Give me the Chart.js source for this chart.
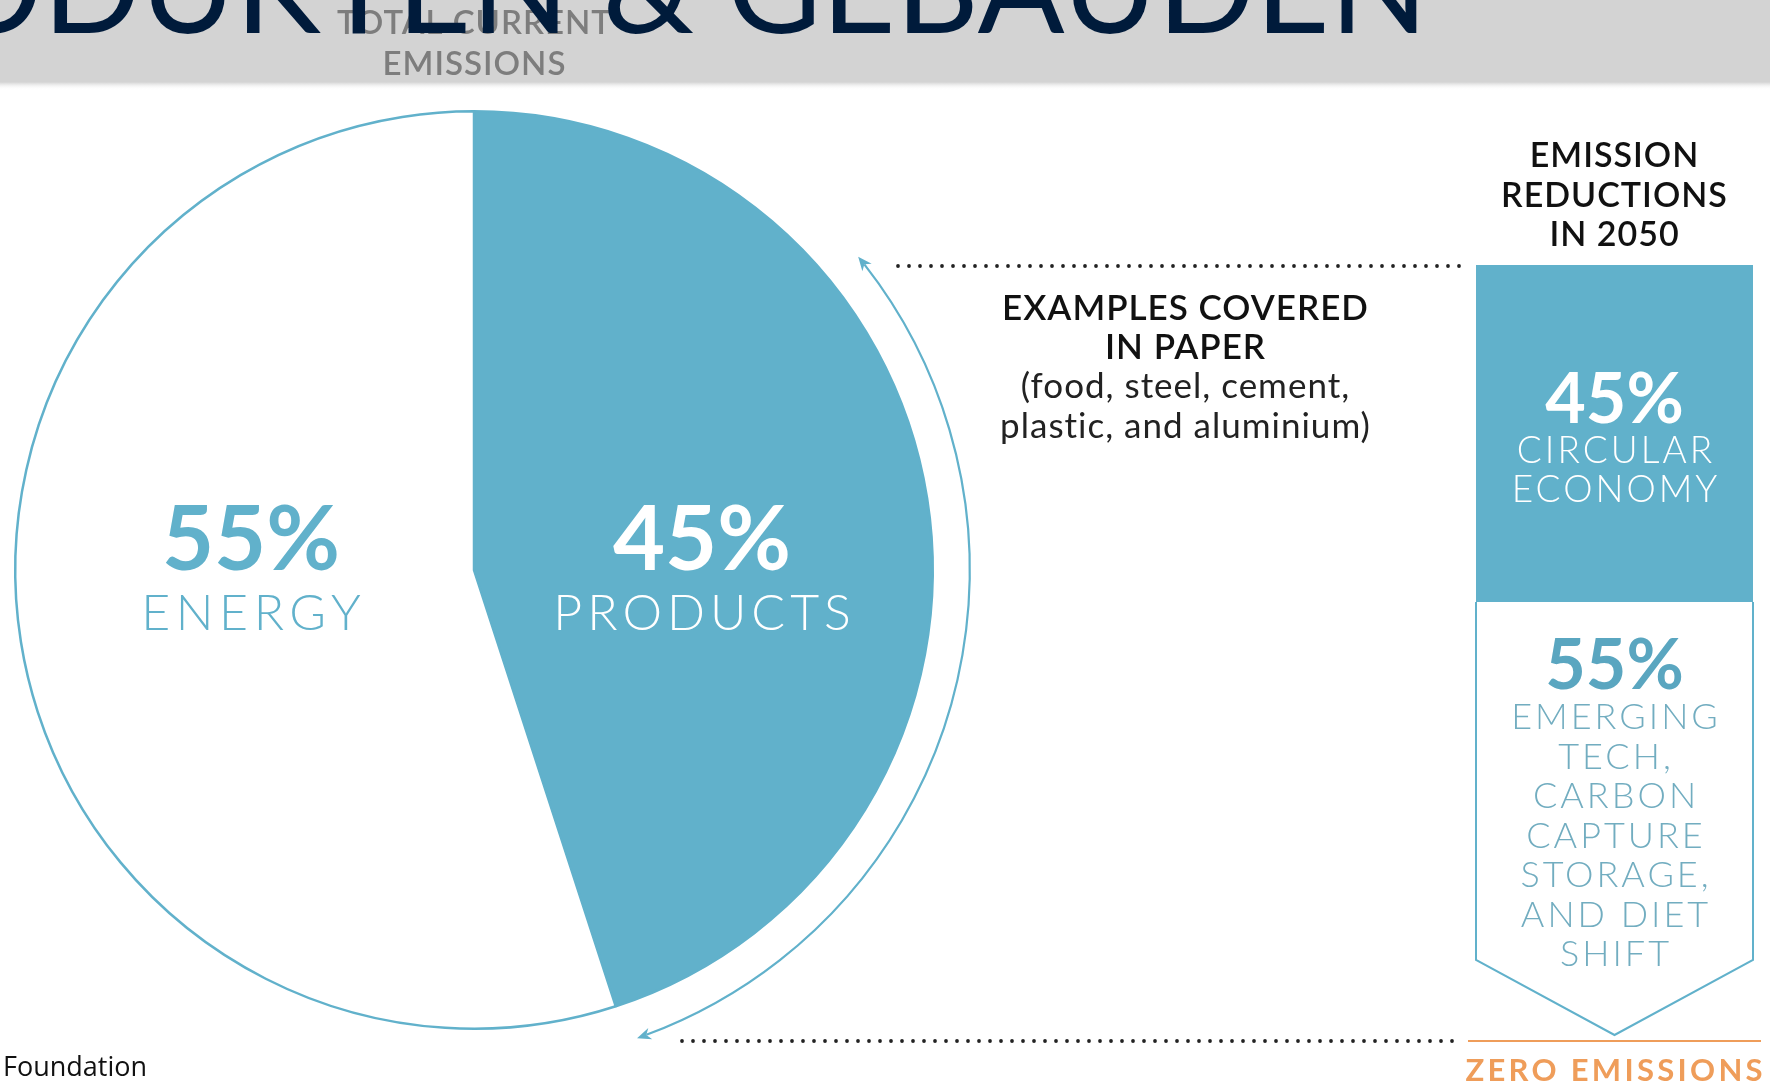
<!DOCTYPE html>
<html>
<head>
<meta charset="utf-8">
<script src="https://cdn.jsdelivr.net/npm/chart.js@4.4.1/dist/chart.umd.min.js"></script>
<style>
  html, body { margin: 0; padding: 0; background: #ffffff; overflow: hidden; }
  #wrap { position: relative; width: 1770px; height: 1085px; }
  canvas { position: absolute; left: 0; top: 0; }
</style>
</head>
<body>
<div id="wrap">
  <canvas id="pie" width="1770" height="1085"></canvas>
  <canvas id="bar" width="1770" height="1085"></canvas>
</div>
<script>
// ---- data ----
const pieLabels = ['PRODUCTS', 'ENERGY'];
const pieValues = [45, 55];
const reductionLabels = ['CIRCULAR ECONOMY', 'EMERGING TECH, CARBON CAPTURE STORAGE, AND DIET SHIFT'];
const reductionValues = [45, 55];

// ---- texts ----
const titleText = 'PRODUKTEN & GEBÄUDEN';
const pieTitleLines = ['TOTAL CURRENT', 'EMISSIONS'];
const middleLines = ['EXAMPLES COVERED', 'IN PAPER', '(food, steel, cement,', 'plastic, and aluminium)'];
const rightTitleLines = ['EMISSION', 'REDUCTIONS', 'IN 2050'];
const circularLines = ['CIRCULAR', 'ECONOMY'];
const emergingLines = ['EMERGING', 'TECH,', 'CARBON', 'CAPTURE', 'STORAGE,', 'AND DIET', 'SHIFT'];
const zeroText = 'ZERO EMISSIONS';
const sourceText = 'Foundation';

const TEAL = '#61b1cb';
const NAVY = '#001b3b';
const ORANGE = '#ef9d5a';

function txt(ctx, s, x, y, font, color, spacing, align) {
  ctx.save();
  ctx.font = font;
  ctx.fillStyle = color;
  ctx.textBaseline = 'alphabetic';
  ctx.letterSpacing = (spacing || 0) + 'px';
  ctx.textAlign = 'left';
  let w = ctx.measureText(s).width - (spacing || 0);
  let x0 = x;
  if ((align || 'center') === 'center') x0 = x - w / 2;
  else if (align === 'right') x0 = x - w;
  ctx.fillText(s, x0, y);
  ctx.restore();
}

function dots(ctx, x1, x2, y, step) {
  ctx.save();
  ctx.fillStyle = '#222222';
  for (let x = x1; x <= x2; x += step) {
    ctx.beginPath();
    ctx.arc(x, y, 1.9, 0, Math.PI * 2);
    ctx.fill();
  }
  ctx.restore();
}

function arrowHead(ctx, x, y, dx, dy) {
  const len = 14, half = 6;
  const nx = -dy, ny = dx;
  ctx.beginPath();
  ctx.moveTo(x, y);
  ctx.lineTo(x - dx * len + nx * half, y - dy * len + ny * half);
  ctx.lineTo(x - dx * len * 0.7, y - dy * len * 0.7);
  ctx.lineTo(x - dx * len - nx * half, y - dy * len - ny * half);
  ctx.closePath();
  ctx.fill();
}

const piePlugin = {
  id: 'piedeco',
  beforeDraw(chart) {
    const ctx = chart.ctx;
    ctx.save();
    const g = ctx.createLinearGradient(0, 82, 0, 90);
    g.addColorStop(0, 'rgba(180,180,180,0.6)');
    g.addColorStop(1, 'rgba(255,255,255,0)');
    ctx.fillStyle = g;
    ctx.fillRect(0, 82, 1770, 8);
    ctx.fillStyle = '#d3d3d3';
    ctx.fillRect(0, 0, 1770, 82);
    ctx.restore();
    txt(ctx, pieTitleLines[0], 474, 34, '600 33px Lato', '#7d7d7d', 1);
    txt(ctx, pieTitleLines[1], 474, 75, '600 33px Lato', '#7d7d7d', 1);
    ctx.save();
    ctx.font = '100px Lato';
    const w = ctx.measureText('GEBÄUDEN').width;
    const size = 100 * 701 / w;
    ctx.restore();
    txt(ctx, titleText, 1428, 33, size.toFixed(1) + 'px Lato', NAVY, 0, 'right');
  },
  afterDatasetsDraw(chart) {
    const ctx = chart.ctx;
    const arc0 = chart.getDatasetMeta(0).data[0];
    const cx = arc0.x, cy = arc0.y, r = arc0.outerRadius;
    txt(ctx, pieValues[1] + '%', cx - 223, 570, 'bold 90px Lato', TEAL, 0);
    txt(ctx, pieLabels[1], cx - 223, 630, '300 50px Lato', TEAL, 5.5);
    txt(ctx, pieValues[0] + '%', cx + 228, 570, 'bold 90px Lato', '#ffffff', 0);
    txt(ctx, pieLabels[0], cx + 228, 630, '300 50px Lato', '#ffffff', 5);

    const R = r + 37;
    const a1 = (50.8 - 90) * Math.PI / 180;
    const a2 = (160.8 - 90) * Math.PI / 180;
    ctx.save();
    ctx.strokeStyle = TEAL;
    ctx.fillStyle = TEAL;
    ctx.lineWidth = 2.2;
    ctx.beginPath();
    ctx.arc(cx, cy, R, a1 + 0.02, a2 - 0.02);
    ctx.stroke();
    arrowHead(ctx, cx + R * Math.cos(a1), cy + R * Math.sin(a1), Math.sin(a1), -Math.cos(a1));
    arrowHead(ctx, cx + R * Math.cos(a2), cy + R * Math.sin(a2), -Math.sin(a2), Math.cos(a2));
    ctx.restore();

    dots(ctx, 898, 1462, 266, 11);
    dots(ctx, 682, 1462, 1041, 11);
    ctx.save();
    ctx.strokeStyle = ORANGE;
    ctx.lineWidth = 2;
    ctx.beginPath();
    ctx.moveTo(1468, 1041);
    ctx.lineTo(1761, 1041);
    ctx.stroke();
    ctx.restore();
    txt(ctx, zeroText, 1614, 1081, 'bold 31px Lato', ORANGE, 3.3);

    txt(ctx, middleLines[0], 1185, 320, '600 35px Lato', '#111111', 1);
    txt(ctx, middleLines[1], 1185, 359, '600 35px Lato', '#111111', 1);
    txt(ctx, middleLines[2], 1185, 398, '35px Lato', '#222222', 1);
    txt(ctx, middleLines[3], 1185, 438, '35px Lato', '#222222', 1);

    txt(ctx, rightTitleLines[0], 1614, 167, '600 34px Lato', '#111111', 1);
    txt(ctx, rightTitleLines[1], 1614, 207, '600 34px Lato', '#111111', 1);
    txt(ctx, rightTitleLines[2], 1614, 246, '600 34px Lato', '#111111', 1);

    txt(ctx, sourceText, 3, 1076, '27px "Open Sans"', '#111111', 0, 'left');
  }
};

new Chart(document.getElementById('pie'), {
  type: 'pie',
  data: {
    labels: pieLabels,
    datasets: [{
      data: pieValues,
      backgroundColor: [TEAL, '#ffffff'],
      borderColor: TEAL,
      borderWidth: 2.5,
      hoverOffset: 0
    }]
  },
  options: {
    responsive: false,
    animation: false,
    events: [],
    rotation: 0,
    layout: { padding: { left: 14, right: 836, top: 110, bottom: 55 } },
    plugins: { legend: { display: false }, tooltip: { enabled: false } }
  },
  plugins: [piePlugin]
});

const barPlugin = {
  id: 'bardeco',
  afterDatasetsDraw(chart) {
    const ctx = chart.ctx;
    const b0 = chart.getDatasetMeta(0).data[0].getProps(['x', 'y', 'base', 'width'], true);
    const b1 = chart.getDatasetMeta(1).data[0].getProps(['x', 'y', 'base', 'width'], true);
    const left = b1.x - b1.width / 2, right = b1.x + b1.width / 2;
    const top1 = Math.min(b1.y, b1.base), bot1 = Math.max(b1.y, b1.base);
    const top0 = Math.min(b0.y, b0.base);
    ctx.save();
    ctx.strokeStyle = TEAL;
    ctx.fillStyle = '#ffffff';
    ctx.lineWidth = 2;
    ctx.beginPath();
    ctx.moveTo(left, top1);
    ctx.lineTo(left, bot1 - 54);
    ctx.lineTo(b1.x, bot1 + 21);
    ctx.lineTo(right, bot1 - 54);
    ctx.lineTo(right, top1);
    ctx.fill();
    ctx.stroke();
    ctx.restore();

    const cx = b0.x;
    txt(ctx, reductionValues[0] + '%', cx, top0 + 158, 'bold 70px Lato', '#ffffff', 0);
    txt(ctx, circularLines[0], cx, top0 + 198, '300 37px Lato', '#ffffff', 3);
    txt(ctx, circularLines[1], cx, top0 + 237, '300 37px Lato', '#ffffff', 3);

    txt(ctx, reductionValues[1] + '%', cx, top1 + 87, 'bold 70px Lato', '#5aa6c0', 0);
    emergingLines.forEach((s, i) => {
      txt(ctx, s, cx, top1 + 127 + i * 39.5, '300 36px Lato', '#72adc0', 3);
    });
  }
};

new Chart(document.getElementById('bar'), {
  type: 'bar',
  data: {
    labels: ['2050'],
    datasets: [
      { label: reductionLabels[0], data: [reductionValues[0]], backgroundColor: TEAL, borderWidth: 0 },
      { label: reductionLabels[1], data: [reductionValues[1]], backgroundColor: 'rgba(0,0,0,0)', borderWidth: 0 }
    ]
  },
  options: {
    responsive: false,
    animation: false,
    events: [],
    layout: { padding: { left: 1476, right: 17, top: 265, bottom: 71 } },
    datasets: { bar: { categoryPercentage: 1, barPercentage: 1 } },
    scales: {
      x: { display: false, stacked: true },
      y: { display: false, stacked: true, min: 0, max: 100, reverse: true }
    },
    plugins: { legend: { display: false }, tooltip: { enabled: false } }
  },
  plugins: [barPlugin]
});
</script>
</body>
</html>
